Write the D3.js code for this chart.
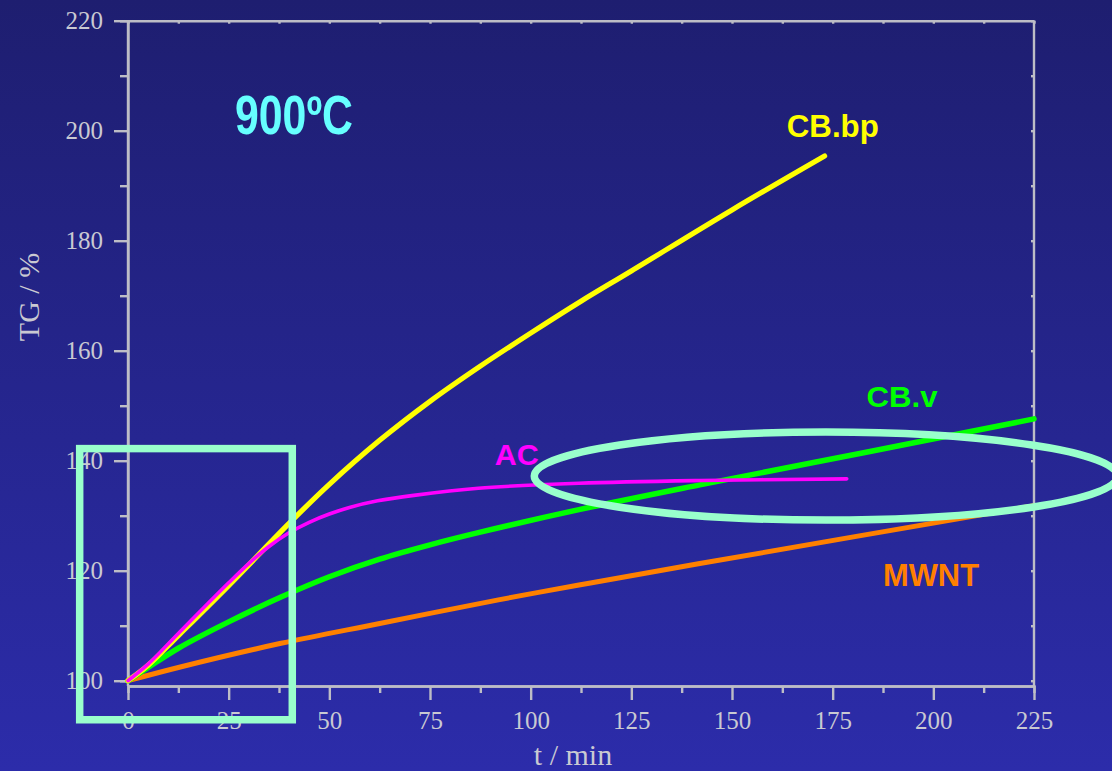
<!DOCTYPE html>
<html>
  <head>
    <title>TG 900ºC</title>
    <script src="https://d3js.org/d3.v7.min.js"></script>
    <style>
      html, body { margin: 0; padding: 0; }
      body { width: 1112px; height: 771px; overflow: hidden; }
      .tick-label { font-family: "Liberation Serif", "Times New Roman", serif; fill: #c9c9d2; font-size: 25px; }
      .axis-title { font-family: "Liberation Serif", "Times New Roman", serif; fill: #c9c9d2; font-size: 30px; }
      .series-label { font-family: "Liberation Sans", Arial, sans-serif; font-weight: bold; }
    </style>
  </head>
  <body>
    <div id="chart"></div>
    <script>
      // series data (t in min, TG in %)
      var tCBbp = [0, 5, 12.5, 25, 40, 50, 62.5, 75, 87.5, 100, 112.5, 125, 150, 173];
      var vCBbp = [100, 102.8, 108.2, 117.3, 128.6, 135.7, 143.7, 150.8, 157.2, 163.2, 169, 174.5, 185.6, 195.4];

      var tAC = [0, 5, 12.5, 25, 30, 35, 40, 45, 50, 55, 62, 71, 87, 112, 142, 178.5];
      var vAC = [100, 103, 108.6, 117.8, 121.3, 124.4, 126.9, 128.8, 130.3, 131.5, 132.7, 133.7, 135, 135.9, 136.4, 136.7];

      var tCBv = [0, 5, 12.5, 25, 38, 50, 62.5, 75, 87.5, 112, 142, 183, 225];
      var vCBv = [100, 102.4, 105.9, 110.7, 115.2, 118.9, 122.1, 124.7, 127, 131.1, 135.6, 141.5, 147.6];

      var tMWNT = [0, 13, 38, 62.5, 92, 112, 142, 225];
      var vMWNT = [100, 102.5, 106.8, 110.4, 114.7, 117.4, 121.3, 131.8];

      var xTicks = [0, 25, 50, 75, 100, 125, 150, 175, 200, 225];
      var yTicks = [100, 120, 140, 160, 180, 200, 220];

      var W = 1112, H = 771;

      var svg = d3.select("#chart")
        .append("svg")
        .attr("width", W)
        .attr("height", H);

      // background gradient
      var grad = svg.append("defs").append("linearGradient")
        .attr("id", "bg")
        .attr("x1", 0).attr("y1", 0).attr("x2", 0).attr("y2", 1);
      grad.append("stop").attr("offset", "0%").attr("stop-color", "#1e1e70");
      grad.append("stop").attr("offset", "100%").attr("stop-color", "#2c2caa");
      svg.append("rect").attr("width", W).attr("height", H).attr("fill", "url(#bg)");

      var xScale = d3.scaleLinear().domain([0, 225]).range([128, 1034]);
      var yScale = d3.scaleLinear().domain([100, 220]).range([680.7, 20.7]);
      var axisY = 686; // bottom axis sits a little under the 100 line
      var axisColor = "#bdbdc6";

      // frame: top and right lines with tiny inner ticks
      svg.append("g")
        .attr("transform", "translate(0," + yScale(220) + ")")
        .call(d3.axisTop(xScale).tickValues(d3.range(0, 226, 12.5)).tickSizeInner(-3).tickSizeOuter(0).tickFormat(""));
      var right = svg.append("g")
        .attr("transform", "translate(" + xScale(225) + ",0)")
        .call(d3.axisRight(yScale).tickValues(d3.range(100, 221, 10)).tickSizeInner(-3).tickSizeOuter(0).tickFormat(""));
      right.select(".domain").attr("d", "M0," + yScale(220) + "V" + axisY);

      // bottom axis: minor then major
      svg.append("g")
        .attr("transform", "translate(0," + axisY + ")")
        .call(d3.axisBottom(xScale).tickValues(d3.range(12.5, 225, 25)).tickSize(7).tickFormat(""));
      var xMajor = svg.append("g")
        .attr("transform", "translate(0," + axisY + ")")
        .call(d3.axisBottom(xScale).tickValues(xTicks).tickSize(14).tickSizeOuter(0));
      xMajor.selectAll("text").attr("class", "tick-label").attr("dy", null).attr("y", 43);

      // left axis: minor then major
      svg.append("g")
        .attr("transform", "translate(" + xScale(0) + ",0)")
        .call(d3.axisLeft(yScale).tickValues(d3.range(110, 220, 20)).tickSize(8).tickFormat(""));
      var yMajor = svg.append("g")
        .attr("transform", "translate(" + xScale(0) + ",0)")
        .call(d3.axisLeft(yScale).tickValues(yTicks).tickSize(14).tickSizeOuter(0).tickPadding(11));
      yMajor.select(".domain").attr("d", "M0," + yScale(220) + "V" + axisY);
      yMajor.selectAll("text").attr("class", "tick-label").attr("dy", "0.33em");

      svg.selectAll(".domain, .tick line")
        .attr("stroke", axisColor)
        .attr("stroke-width", 2.4);
      svg.selectAll(".tick text").attr("fill", null);
      svg.selectAll("g").attr("font-family", null).attr("font-size", null);

      // axis titles
      svg.append("text")
        .attr("class", "axis-title")
        .attr("x", 573).attr("y", 765)
        .attr("text-anchor", "middle")
        .text("t / min");
      svg.append("text")
        .attr("class", "axis-title")
        .attr("transform", "translate(39,297) rotate(-90)")
        .attr("text-anchor", "middle")
        .text("TG / %");

      // curves
      var line = d3.line()
        .x(function(d) { return xScale(d[0]); })
        .y(function(d) { return yScale(d[1]); })
        .curve(d3.curveCatmullRom.alpha(0.5));

      var series = [
        { name: "MWNT", t: tMWNT, v: vMWNT, color: "#ff8000", width: 5 },
        { name: "CB.v", t: tCBv, v: vCBv, color: "#00ff00", width: 5.5 },
        { name: "CB.bp", t: tCBbp, v: vCBbp, color: "#ffff00", width: 5.2 },
        { name: "AC", t: tAC, v: vAC, color: "#ff00ff", width: 3.6 }
      ];

      svg.selectAll("path.curve")
        .data(series)
        .enter()
        .append("path")
        .attr("class", "curve")
        .attr("d", function(s) { return line(d3.zip(s.t, s.v)); })
        .attr("fill", "none")
        .attr("stroke", function(s) { return s.color; })
        .attr("stroke-width", function(s) { return s.width; })
        .attr("stroke-linecap", "round");

      // series labels (baseline positions in data units)
      var labels = [
        { text: "CB.bp", t: 163.6, v: 198.9, size: 32, len: 92, color: "#ffff00" },
        { text: "CB.v", t: 183.4, v: 149.8, size: 30, len: 71, color: "#00ff00" },
        { text: "AC", t: 91.1, v: 139.2, size: 30, len: 44, color: "#ff00ff" },
        { text: "MWNT", t: 187.5, v: 117.2, size: 31, len: 96, color: "#ff8000" }
      ];
      svg.selectAll("text.series-label")
        .data(labels)
        .enter()
        .append("text")
        .attr("class", "series-label")
        .attr("x", function(d) { return xScale(d.t); })
        .attr("y", function(d) { return yScale(d.v); })
        .attr("font-size", function(d) { return d.size; })
        .attr("textLength", function(d) { return d.len; })
        .attr("lengthAdjust", "spacingAndGlyphs")
        .attr("fill", function(d) { return d.color; })
        .text(function(d) { return d.text; });

      // temperature tag
      svg.append("text")
        .attr("class", "series-label")
        .attr("x", 235).attr("y", 134)
        .attr("font-size", 55)
        .attr("textLength", 118)
        .attr("lengthAdjust", "spacingAndGlyphs")
        .attr("fill", "#66ffff")
        .text("900ºC");

      // highlight marks (in data units)
      var hl = "#99ffcc";
      svg.append("rect")
        .attr("x", xScale(-12))
        .attr("y", yScale(142.2))
        .attr("width", xScale(40.8) - xScale(-12))
        .attr("height", yScale(92.9) - yScale(142.2))
        .attr("fill", "none")
        .attr("stroke", hl)
        .attr("stroke-width", 7.5);
      svg.append("ellipse")
        .attr("cx", xScale(173.3))
        .attr("cy", yScale(137.2))
        .attr("rx", xScale(173.3 + 72.4) - xScale(173.3))
        .attr("ry", yScale(100) - yScale(108))
        .attr("fill", "none")
        .attr("stroke", hl)
        .attr("stroke-width", 7.5);
    </script>
  </body>
</html>
